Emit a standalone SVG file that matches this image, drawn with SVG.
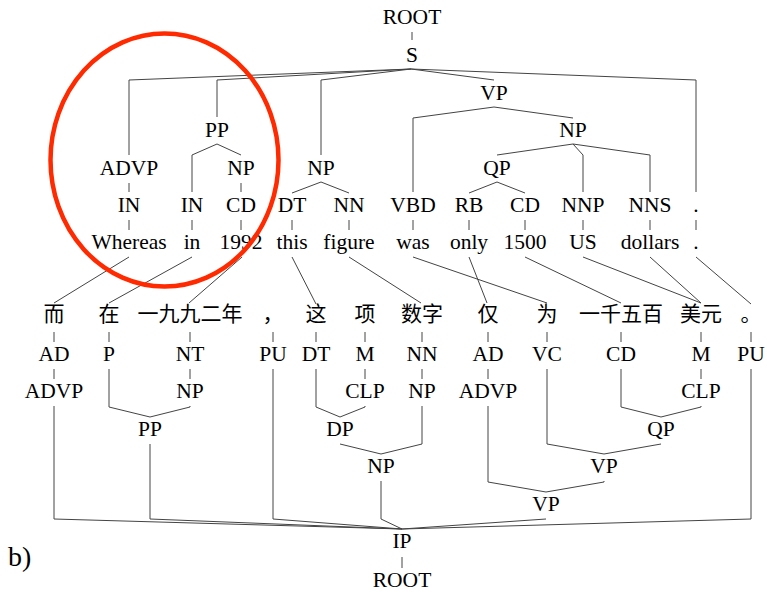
<svg xmlns="http://www.w3.org/2000/svg" width="767" height="592" viewBox="0 0 767 592" font-family="Liberation Serif, DejaVu Serif, serif">
<style>
text{font-family:'Liberation Serif','DejaVu Serif',serif;font-size:21.5px;fill:#000;text-anchor:middle}
text.zh{font-family:'Liberation Serif','Noto Sans CJK SC',serif;font-size:21px}
#connectors path{fill:none;stroke:#444;stroke-width:1}
</style>
<rect width="767" height="592" fill="#fff"/>
<g id="connectors">
<path d="M412 32V40"/>
<path d="M411 69L129 80V155"/>
<path d="M411 69L217 80V117"/>
<path d="M411 69L321 80V155"/>
<path d="M411 69L494 80"/>
<path d="M411 69L696 80V192"/>
<path d="M494 107L413 118V192"/>
<path d="M494 107L573 118"/>
<path d="M573 144L497 155"/>
<path d="M573 144L583 155V192"/>
<path d="M573 144L650 155V192"/>
<path d="M497 182L469 193"/>
<path d="M497 182L525 193"/>
<path d="M217 144L192 155V192"/>
<path d="M217 144L241 155"/>
<path d="M241 183V192"/>
<path d="M129 183V192"/>
<path d="M321 182L292 193"/>
<path d="M321 182L349 193"/>
<path d="M129 220V230M192 220V230M241 220V230M292 220V230M349 220V230M413 220V230M469 220V230M525 220V230M583 220V230M650 220V230M696 220V230"/>
<path d="M129 257L54 303"/>
<path d="M192 257L109 303"/>
<path d="M242 257L189 303"/>
<path d="M292 257L316 304"/>
<path d="M349 257L421 303"/>
<path d="M413 257L547 303"/>
<path d="M469 257L487 303"/>
<path d="M525 257L621 303"/>
<path d="M583 257L701 303"/>
<path d="M650 257L701 303"/>
<path d="M696 257L751 304"/>
<path d="M54 332V342M109 332V342M190 332V342M273 332V342M316 332V342M365 332V342M422 332V342M488 332V342M547 332V342M621 332V342M701 332V342M751 332V342"/>
<path d="M54 369V379M190 369V379M365 369V379M422 369V379M488 369V379M701 369V379"/>
<path d="M109 369V407L150 417"/>
<path d="M190 406V407L150 417"/>
<path d="M316 369V407L340 417"/>
<path d="M365 406V407L340 417"/>
<path d="M340 444L381 454"/>
<path d="M422 406V444L381 454"/>
<path d="M621 369V407L661 417"/>
<path d="M701 406V407L661 417"/>
<path d="M547 369V444L604 454"/>
<path d="M661 444L604 454"/>
<path d="M488 406V482L546 492"/>
<path d="M604 481V482L546 492"/>
<path d="M54 406V519L402 529"/>
<path d="M150 444V519L402 529"/>
<path d="M273 369V519L402 529"/>
<path d="M381 481V519L402 529"/>
<path d="M546 519L402 529"/>
<path d="M751 369V519L402 529"/>
<path d="M402 557V568"/>
</g>
<g id="en-ROOT"><text x="412" y="24">ROOT</text></g>
<g id="en-S"><text x="412" y="62">S</text></g>
<g id="en-VP"><text x="494" y="100">VP</text></g>
<g id="en-PP"><text x="217" y="137">PP</text></g>
<g id="en-NP-obj"><text x="573" y="137">NP</text></g>
<g id="en-ADVP"><text x="129" y="175">ADVP</text></g>
<g id="en-NP-1992"><text x="241" y="175">NP</text></g>
<g id="en-NP-subj"><text x="321" y="175">NP</text></g>
<g id="en-QP"><text x="497" y="175">QP</text></g>
<g id="en-pos">
<text x="129" y="212">IN</text><text x="192" y="212">IN</text><text x="241" y="212">CD</text><text x="292" y="212">DT</text><text x="349" y="212">NN</text><text x="413" y="212">VBD</text><text x="469" y="212">RB</text><text x="525" y="212">CD</text><text x="583" y="212">NNP</text><text x="650" y="212">NNS</text><text x="696" y="212">.</text>
</g>
<g id="en-words">
<text x="129" y="249">Whereas</text><text x="192" y="249">in</text><text x="241" y="249">1992</text><text x="292" y="249">this</text><text x="349" y="249">figure</text><text x="413" y="249">was</text><text x="469" y="249">only</text><text x="525" y="249">1500</text><text x="583" y="249">US</text><text x="650" y="249">dollars</text><text x="696" y="249">.</text>
</g>
<g id="zh-words">
<text class="zh" x="54" y="321">而</text><text class="zh" x="109" y="321">在</text><text class="zh" x="190" y="321">一九九二年</text><text class="zh" x="273" y="321">，</text><text class="zh" x="316" y="321">这</text><text class="zh" x="365" y="321">项</text><text class="zh" x="422" y="321">数字</text><text class="zh" x="488" y="321">仅</text><text class="zh" x="547" y="321">为</text><text class="zh" x="621" y="321">一千五百</text><text class="zh" x="701" y="321">美元</text><text class="zh" x="751" y="321">。</text>
</g>
<g id="zh-pos">
<text x="54" y="361">AD</text><text x="109" y="361">P</text><text x="190" y="361">NT</text><text x="273" y="361">PU</text><text x="316" y="361">DT</text><text x="365" y="361">M</text><text x="422" y="361">NN</text><text x="488" y="361">AD</text><text x="547" y="361">VC</text><text x="621" y="361">CD</text><text x="701" y="361">M</text><text x="751" y="361">PU</text>
</g>
<g id="zh-ADVP-1"><text x="54" y="398">ADVP</text></g>
<g id="zh-NP-1"><text x="190" y="398">NP</text></g>
<g id="zh-CLP-1"><text x="365" y="398">CLP</text></g>
<g id="zh-NP-2"><text x="422" y="398">NP</text></g>
<g id="zh-ADVP-2"><text x="488" y="398">ADVP</text></g>
<g id="zh-CLP-2"><text x="701" y="398">CLP</text></g>
<g id="zh-PP"><text x="150" y="436">PP</text></g>
<g id="zh-DP"><text x="340" y="436">DP</text></g>
<g id="zh-QP"><text x="661" y="436">QP</text></g>
<g id="zh-NP-3"><text x="381" y="473">NP</text></g>
<g id="zh-VP-1"><text x="604" y="473">VP</text></g>
<g id="zh-VP-2"><text x="546" y="511">VP</text></g>
<g id="zh-IP"><text x="402" y="548">IP</text></g>
<g id="zh-ROOT"><text x="402" y="587">ROOT</text></g>
<g id="label-b"><text x="8" y="566" style="text-anchor:start;font-size:28px">b)</text></g>
<g id="highlight"><ellipse cx="164.5" cy="160" rx="114" ry="126.5" fill="none" stroke="#ff2a00" stroke-width="4.5"/></g>
</svg>
